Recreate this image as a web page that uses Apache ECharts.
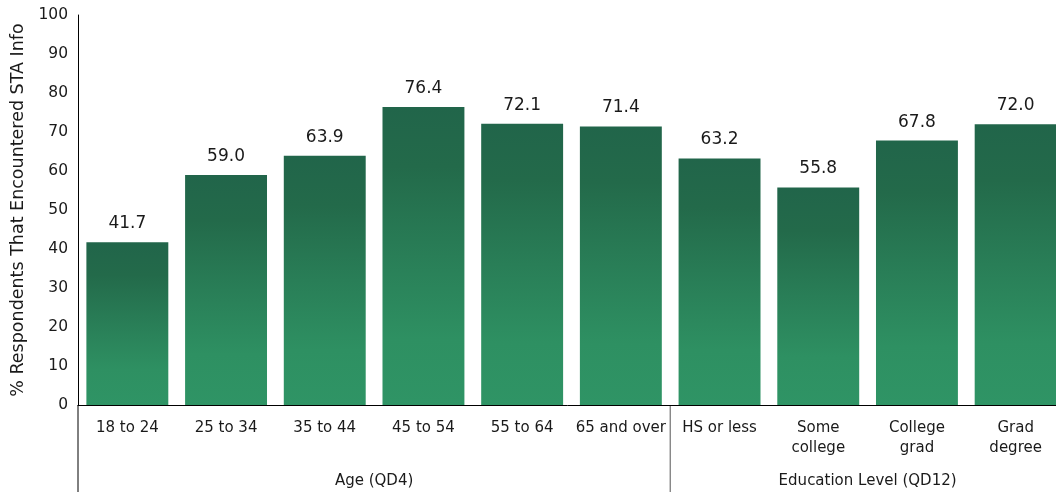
<!DOCTYPE html>
<html>
<head>
<meta charset="utf-8">
<script src="https://cdn.jsdelivr.net/npm/echarts@6/dist/echarts.min.js"></script>
<style>
html,body{margin:0;padding:0;background:#fff;}
#c{width:1056px;height:492px;}
</style>
</head>
<body>
<div id="c"></div>
<script>
var categories = ['18 to 24', '25 to 34', '35 to 44', '45 to 54', '55 to 64', '65 and over', 'HS or less', 'Some\ncollege', 'College\ngrad', 'Grad\ndegree'];
var values = [41.7, 59.0, 63.9, 76.4, 72.1, 71.4, 63.2, 55.8, 67.8, 72.0];
var groupNames = ['Age (QD4)', 'Education Level (QD12)'];
var groupSizes = [6, 4];
var yTicks = [0, 10, 20, 30, 40, 50, 60, 70, 80, 90, 100];
var yTitle = '% Respondents That Encountered STA Info';

var FONT = 'DejaVu Sans';
var chart = echarts.init(document.getElementById('c'), null, {renderer: 'canvas'});

var barColor = new echarts.graphic.LinearGradient(0, 0, 0, 1, [
  {offset: 0, color: '#21654a'},
  {offset: 0.2, color: '#236a4a'},
  {offset: 0.5, color: '#297e57'},
  {offset: 0.78, color: '#2e9062'},
  {offset: 1, color: '#2f9465'}
]);

chart.setOption({
  animation: false,
  grid: {left: 78, width: 987, top: 15, bottom: 87, containLabel: false, outerBoundsMode: 'none'},
  xAxis: {
    type: 'category',
    data: categories,
    axisLine: {show: true, lineStyle: {color: '#000', width: 1}},
    axisTick: {show: false},
    axisLabel: {color: '#1a1a1a', fontFamily: FONT, fontSize: 15, margin: 13, lineHeight: 20, interval: 0}
  },
  yAxis: {
    type: 'value',
    min: yTicks[0],
    max: yTicks[yTicks.length - 1],
    interval: 10,
    name: yTitle,
    nameLocation: 'middle',
    nameGap: 50,
    nameRotate: 90,
    nameTextStyle: {color: '#1a1a1a', fontFamily: FONT, fontSize: 17.5},
    axisLine: {show: true, lineStyle: {color: '#000', width: 1}},
    axisTick: {show: false},
    splitLine: {show: false},
    axisLabel: {color: '#1a1a1a', fontFamily: FONT, fontSize: 15.5, margin: 10}
  },
  series: [{
    type: 'bar',
    data: values,
    barCategoryGap: '17%',
    itemStyle: {color: barColor},
    label: {
      show: true,
      position: 'top',
      distance: 10,
      color: '#1a1a1a',
      fontFamily: FONT,
      fontSize: 17,
      formatter: function (p) { return p.value.toFixed(1); }
    }
  }]
});

// Group labels and separators, positioned from the category axis scale
function layoutGroups() {
  var p0 = chart.convertToPixel({xAxisIndex: 0}, categories[0]);
  var p1 = chart.convertToPixel({xAxisIndex: 0}, categories[1]);
  var step = p1 - p0;
  var axisY = chart.convertToPixel({yAxisIndex: 0}, 0);
  var start = p0 - step / 2;
  var elements = [];
  elements.push({type: 'line', shape: {x1: start, y1: axisY, x2: start, y2: 492}, style: {stroke: '#000', lineWidth: 1}, silent: true});
  var idx = 0;
  for (var g = 0; g < groupNames.length; g++) {
    var left = start + idx * step;
    var right = start + (idx + groupSizes[g]) * step;
    elements.push({
      type: 'text',
      x: (left + right) / 2,
      y: 481,
      style: {text: groupNames[g], fill: '#1a1a1a', font: '15px "' + FONT + '"', align: 'center', verticalAlign: 'middle'},
      silent: true
    });
    idx += groupSizes[g];
    if (g < groupNames.length - 1) {
      elements.push({type: 'line', shape: {x1: right, y1: axisY, x2: right, y2: 492}, style: {stroke: '#555', lineWidth: 1}, silent: true});
    }
  }
  chart.setOption({graphic: elements});
}
layoutGroups();
</script>
</body>
</html>
